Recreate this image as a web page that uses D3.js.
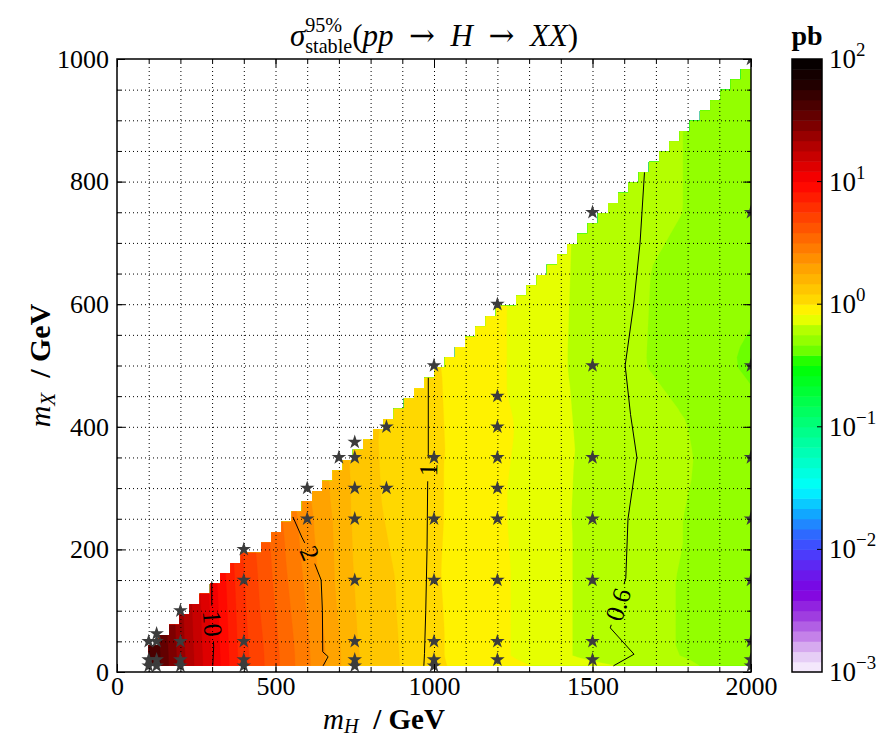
<!DOCTYPE html>
<html>
<head>
<meta charset="utf-8">
<script src="https://cdn.jsdelivr.net/npm/d3@7"></script>
<style>
body { margin: 0; background: #fff; }
text { font-family: "Liberation Serif", "DejaVu Serif", serif; fill: #000; }
</style>
</head>
<body>
<svg id="chart" width="882" height="736"></svg>
<script>
// measured points (stars): m_H, m_X in GeV and 95% limit in pb
var starMH = [100, 100, 100,
	125, 125, 125, 125,
	200, 200, 200, 200,
	400, 400, 400, 400, 400,
	600, 600,
	700,
	750, 750, 750, 750, 750, 750, 750, 750,
	850, 850,
	1000, 1000, 1000, 1000, 1000, 1000, 1000,
	1200, 1200, 1200, 1200, 1200, 1200, 1200, 1200, 1200,
	1500, 1500, 1500, 1500, 1500, 1500, 1500,
	2000, 2000, 2000, 2000, 2000, 2000, 2000, 2000, 2000]
var starMX = [10, 20, 50,
	10, 20, 50, 62.5,
	10, 20, 50, 100,
	10, 20, 50, 150, 200,
	250, 300,
	350,
	10, 20, 50, 150, 250, 300, 350, 375,
	300, 400,
	10, 20, 50, 150, 250, 350, 500,
	20, 50, 150, 250, 300, 350, 400, 450, 600,
	20, 50, 150, 250, 350, 500, 750,
	10, 20, 50, 150, 250, 350, 500, 750, 1000]
var starSigma = [48, 48, 46,
	42, 42, 41, 40,
	24, 24, 23.5, 23,
	6.0, 6.0, 5.9, 5.6, 5.4,
	2.3, 2.2,
	1.6,
	1.5, 1.5, 1.48, 1.45, 1.42, 1.42, 1.4, 1.4,
	1.17, 1.15,
	1.03, 1.03, 1.03, 1.02, 1.03, 1.03, 1.02,
	0.86, 0.86, 0.86, 0.85, 0.85, 0.86, 0.87, 0.85, 0.85,
	0.64, 0.64, 0.64, 0.64, 0.645, 0.63, 0.64,
	0.5, 0.51, 0.5, 0.5, 0.51, 0.52, 0.45, 0.51, 0.51]

// labelled contour lines, [m_H, m_X] along each line
var contourLabels = ['10', '2', '1', '0.6']
var line10 = [[299, 148], [299, 101], [302, 79], [305, 41], [302, 10]]
var line2 = [[555, 253], [583, 220], [609, 194], [625, 175], [644, 150], [648, 100], [649, 33], [666, 25], [650, 10]]
var line1 = [[982, 480], [982, 357], [981, 330], [980, 305], [978, 200], [974, 100], [970, 30], [968, 10]]
var line06 = [[1664, 815], [1650, 700], [1630, 600], [1603, 500], [1620, 420], [1640, 350], [1612, 250], [1605, 153], [1580, 110], [1556, 72], [1631, 29], [1566, 10]]
var labelAt = [[302, 79], [609, 194], [981, 330], [1580, 110]]

var xTicks = [0, 500, 1000, 1500, 2000]
var yTicks = [0, 200, 400, 600, 800, 1000]
var cbarTicks = [-3, -2, -1, 0, 1, 2]

var svg = d3.select('#chart')
var plotL = 117, plotR = 751, plotT = 59, plotB = 672

var xs = d3.scaleLinear().domain([0, 2000]).range([plotL, plotR])
var ys = d3.scaleLinear().domain([0, 1000]).range([plotB, plotT])

// colour map on log10(sigma)
var cmap = d3.scaleLinear()
	.domain([-3, -2.85, -2.7, -2.55, -2.35, -2.15, -2.0, -1.85, -1.7, -1.5, -1.25, -1.0, -0.75, -0.5, -0.375, -0.29, -0.208, -0.125, -0.04, 0.0, 0.04, 0.29, 0.6, 1.0, 1.15, 1.3, 1.45, 1.6, 1.8, 2.0])
	.range(['#fbf5ff', '#e2c6f4', '#c27de8', '#a040e0', '#8000e0', '#6222f0', '#4444ff', '#2a70ff', '#10aaff', '#00ffff', '#00ffc0', '#00ff80', '#00ff40', '#00ff00', '#6cff00', '#94ff00', '#b4ff00', '#e6ff00', '#fff200', '#ffe600', '#ffd800', '#ffa300', '#ff5a00', '#ff0000', '#d80000', '#b00000', '#800000', '#500000', '#200000', '#000000'])
	.clamp(true)

var levels = d3.range(-36, 25).map(function(k) { return k / 12 })

// linear interpolation on the delaunay triangulation of the stars
var pts = starMH.map(function(d, i) { return [d, starMX[i], Math.log10(starSigma[i])] })
var delaunay = d3.Delaunay.from(pts, function(d) { return d[0] }, function(d) { return d[1] })
var tri = delaunay.triangles

var interp = function(x, y)
{
	for (var t = 0; t < tri.length; t += 3) {
		var a = pts[tri[t]], b = pts[tri[t + 1]], c = pts[tri[t + 2]]
		var det = (b[1] - c[1]) * (a[0] - c[0]) + (c[0] - b[0]) * (a[1] - c[1])
		var l1 = ((b[1] - c[1]) * (x - c[0]) + (c[0] - b[0]) * (y - c[1])) / det
		var l2 = ((c[1] - a[1]) * (x - c[0]) + (a[0] - c[0]) * (y - c[1])) / det
		var l3 = 1 - l1 - l2
		if (l1 >= -1e-9 && l2 >= -1e-9 && l3 >= -1e-9)
			return l1 * a[2] + l2 * b[2] + l3 * c[2]
	}
	return NaN
}

var nx = 60, ny = 60
var gMH = d3.range(nx).map(function(i) { return 100 + i * 1900 / (nx - 1) })
var gMX = d3.range(ny).map(function(j) { return 10 + j * 990 / (ny - 1) })
var dMH = gMH[1] - gMH[0], dMX = gMX[1] - gMX[0]
var grid = new Array(nx * ny)
var colTop = []
for (var i = 0; i < nx; i++) {
	colTop[i] = 0
	for (var j = 0; j < ny; j++) {
		var v = interp(gMH[i], gMX[j])
		grid[j * nx + i] = v
		if (!isNaN(v)) colTop[i] = j
	}
	for (var j = colTop[i] + 1; j < ny; j++) grid[j * nx + i] = grid[colTop[i] * nx + i]
}

var defs = svg.append('defs')
defs.append('clipPath').attr('id', 'plotclip')
	.append('rect').attr('x', plotL).attr('y', plotT).attr('width', plotR - plotL).attr('height', plotB - plotT)

// staircase outline of the valid quads
var stair = [[gMH[0], gMX[0]]]
for (var i = 0; i < nx - 1; i++) {
	var st = gMX[Math.min(colTop[i], colTop[i + 1])]
	stair.push([gMH[i], st], [gMH[i + 1], st])
}
stair.push([gMH[nx - 1], gMX[0]])
defs.append('clipPath').attr('id', 'stairclip')
	.append('path')
	.attr('d', d3.line().x(function(d) { return xs(d[0]) }).y(function(d) { return ys(d[1]) })(stair) + 'Z')

var proj = d3.geoTransform({
	point: function(x, y) {
		this.stream.point(xs(gMH[0] + (x - 0.5) * dMH), ys(gMX[0] + (y - 0.5) * dMX))
	}
})
var geo = d3.geoPath(proj)

var bands = d3.contours().size([nx, ny]).thresholds(levels)(grid)

svg.append('g').attr('clip-path', 'url(#stairclip)')
	.selectAll('path').data(bands).join('path')
	.attr('d', geo)
	.attr('fill', function(d) { return cmap(d.value + 1 / 24) })
	.attr('stroke', function(d) { return cmap(d.value + 1 / 24) })
	.attr('stroke-width', 0.3)

// dotted grid
var gridG = svg.append('g').attr('stroke', '#000').attr('stroke-width', 1).attr('stroke-dasharray', '1,3')
gridG.selectAll('.vg').data(d3.range(100, 2000, 100)).join('line').attr('class', 'vg')
	.attr('x1', function(d) { return xs(d) + 0.5 }).attr('x2', function(d) { return xs(d) + 0.5 })
	.attr('y1', plotT).attr('y2', plotB)
gridG.selectAll('.hg').data(d3.range(50, 1000, 50)).join('line').attr('class', 'hg')
	.attr('y1', function(d) { return ys(d) + 0.5 }).attr('y2', function(d) { return ys(d) + 0.5 })
	.attr('x1', plotL).attr('x2', plotR)

// contour lines with gaps for the labels
var mask = defs.append('mask').attr('id', 'lblgap').attr('maskUnits', 'userSpaceOnUse')
	.attr('x', 0).attr('y', 0).attr('width', 882).attr('height', 736)
mask.append('rect').attr('width', 882).attr('height', 736).attr('fill', 'white')

var lineGen = d3.line().x(function(d) { return xs(d[0]) }).y(function(d) { return ys(d[1]) })
var cLines = [line10, line2, line1, line06]

svg.append('g').attr('clip-path', 'url(#plotclip)')
	.append('g').attr('mask', 'url(#lblgap)')
	.selectAll('path').data(cLines).join('path')
	.attr('d', lineGen).attr('fill', 'none').attr('stroke', '#000').attr('stroke-width', 1)

var lblG = svg.append('g')
cLines.forEach(function(ln, k) {
	var px = xs(labelAt[k][0]), py = ys(labelAt[k][1])
	// local direction of the line near the label
	var best = 1e9, ang = 0
	for (var s = 0; s < ln.length - 1; s++) {
		var ax = xs(ln[s][0]), ay = ys(ln[s][1]), bx = xs(ln[s + 1][0]), by = ys(ln[s + 1][1])
		var mx = (ax + bx) / 2, my = (ay + by) / 2
		var dd = (mx - px) * (mx - px) + (my - py) * (my - py)
		if (dd < best) { best = dd; ang = Math.atan2(by - ay, bx - ax) * 180 / Math.PI }
	}
	if (ang > 90) ang -= 180
	if (ang <= -90) ang += 180
	var txt = lblG.append('text')
		.attr('transform', 'translate(' + px + ',' + py + ') rotate(' + ang + ')')
		.attr('text-anchor', 'middle').attr('dy', '0.35em')
		.style('font-size', '26px')
		.text(contourLabels[k])
	var w = txt.node().getComputedTextLength() + 10
	mask.append('rect').attr('x', -w / 2).attr('y', -12).attr('width', w).attr('height', 24)
		.attr('transform', 'translate(' + px + ',' + py + ') rotate(' + ang + ')')
		.attr('fill', 'black')
})

// stars
svg.append('g').attr('clip-path', 'url(#plotclip)')
	.selectAll('path').data(pts).join('path')
	.attr('transform', function(d) { return 'translate(' + xs(d[0]) + ',' + ys(d[1]) + ')' })
	.attr('d', d3.symbol().type(d3.symbolStar).size(66))
	.attr('fill', '#3c3c3c')

// axes: ticks pointing in on all four sides
var styleAxis = function(g) {
	g.select('.domain').remove()
	g.selectAll('.tick line').attr('stroke', '#000').attr('stroke-width', 1)
	g.selectAll('text').style('font-size', '26px').style('font-family', '"Liberation Serif", serif').attr('fill', '#000')
}
var fmt = function(d) { return String(d) }
svg.append('g').attr('transform', 'translate(0,' + plotB + ')')
	.call(d3.axisBottom(xs).tickValues(xTicks).tickSize(-8).tickPadding(5).tickFormat(fmt)).call(styleAxis)
svg.append('g').attr('transform', 'translate(0,' + plotB + ')')
	.call(d3.axisBottom(xs).tickValues(d3.range(100, 2000, 100)).tickSize(-4).tickFormat('')).call(styleAxis)
svg.append('g').attr('transform', 'translate(0,' + plotT + ')')
	.call(d3.axisTop(xs).tickValues(xTicks).tickSize(-8).tickFormat('')).call(styleAxis)
svg.append('g').attr('transform', 'translate(0,' + plotT + ')')
	.call(d3.axisTop(xs).tickValues(d3.range(100, 2000, 100)).tickSize(-4).tickFormat('')).call(styleAxis)
svg.append('g').attr('transform', 'translate(' + plotL + ',0)')
	.call(d3.axisLeft(ys).tickValues(yTicks).tickSize(-8).tickPadding(8).tickFormat(fmt)).call(styleAxis)
svg.append('g').attr('transform', 'translate(' + plotL + ',0)')
	.call(d3.axisLeft(ys).tickValues(d3.range(50, 1000, 50)).tickSize(-4).tickFormat('')).call(styleAxis)
svg.append('g').attr('transform', 'translate(' + plotR + ',0)')
	.call(d3.axisRight(ys).tickValues(yTicks).tickSize(-8).tickFormat('')).call(styleAxis)
svg.append('g').attr('transform', 'translate(' + plotR + ',0)')
	.call(d3.axisRight(ys).tickValues(d3.range(50, 1000, 50)).tickSize(-4).tickFormat('')).call(styleAxis)

svg.append('rect').attr('x', plotL).attr('y', plotT).attr('width', plotR - plotL).attr('height', plotB - plotT)
	.attr('fill', 'none').attr('stroke', '#000').attr('stroke-width', 1.5)

// math-like labels built from pieces
var mathText = function(parent, parts, fs)
{
	var g = parent.append('g')
	var x = 0, lastStart = 0
	parts.forEach(function(p) {
		var sx = p.stack ? lastStart : x
		var t = g.append('text').attr('x', sx).attr('y', p.dy || 0)
			.style('font-size', (fs * (p.s || 1)) + 'px')
			.style('font-style', p.i ? 'italic' : 'normal')
			.style('font-weight', p.b ? 'bold' : 'normal')
			.text(p.t)
		if (p.f) t.style('font-family', p.f)
		var w = t.node().getComputedTextLength()
		if (p.stack) { x = Math.max(x, sx + w) }
		else { lastStart = x; x += w }
	})
	return { g: g, width: x }
}

var title = mathText(svg, [
	{ t: '\u03c3', i: 1 },
	{ t: '95%', s: 0.65, dy: -14 },
	{ t: 'stable', s: 0.65, dy: 7, stack: 1 },
	{ t: '(' },
	{ t: 'pp', i: 1 },
	{ t: '\u2002\u2192\u2002', f: '"DejaVu Serif", serif' },
	{ t: 'H', i: 1 },
	{ t: '\u2002\u2192\u2002', f: '"DejaVu Serif", serif' },
	{ t: 'XX', i: 1 },
	{ t: ')' }
], 31)
title.g.attr('transform', 'translate(' + ((plotL + plotR) / 2 - title.width / 2) + ',46)')

var xl = mathText(svg, [
	{ t: 'm', i: 1 }, { t: 'H', i: 1, s: 0.7, dy: 4 }, { t: '\u2002/\u00a0GeV', b: 1 }
], 29)
xl.g.attr('transform', 'translate(' + (384 - xl.width / 2) + ',729)')

var yl = mathText(svg, [
	{ t: 'm', i: 1 }, { t: 'X', i: 1, s: 0.7, dy: 5 }, { t: '\u2002/\u00a0GeV', b: 1 }
], 30)
yl.g.attr('transform', 'translate(50,' + ((plotT + plotB) / 2 + yl.width / 2) + ') rotate(-90)')

// colour bar
var cx0 = 792, cx1 = 822
var cy = d3.scaleLinear().domain([-3, 2]).range([plotB, plotT])
var cbar = svg.append('g')
cbar.selectAll('rect').data(levels.slice(0, -1)).join('rect')
	.attr('x', cx0).attr('width', cx1 - cx0)
	.attr('y', function(d) { return cy(d + 1 / 12) })
	.attr('height', function(d) { return cy(d) - cy(d + 1 / 12) + 0.5 })
	.attr('fill', function(d) { return cmap(d + 1 / 24) })
cbar.append('rect').attr('x', cx0).attr('y', plotT).attr('width', cx1 - cx0).attr('height', plotB - plotT)
	.attr('fill', 'none').attr('stroke', '#000').attr('stroke-width', 1.5)
cbar.selectAll('.ct').data(cbarTicks.slice(1, -1)).join('line').attr('class', 'ct')
	.attr('x1', cx1 - 5).attr('x2', cx1).attr('y1', function(d) { return cy(d) }).attr('y2', function(d) { return cy(d) })
	.attr('stroke', '#000')
cbarTicks.forEach(function(k) {
	var lb = mathText(cbar, [{ t: '10' }, { t: (k < 0 ? '\u2212' : '') + Math.abs(k), s: 0.7, dy: -12 }], 27)
	lb.g.attr('transform', 'translate(' + (cx1 + 7) + ',' + (cy(k) + 9) + ')')
})
var pb = mathText(svg, [{ t: 'pb', b: 1 }], 28)
pb.g.attr('transform', 'translate(' + ((cx0 + cx1) / 2 - pb.width / 2) + ',45)')
</script>
</body>
</html>
